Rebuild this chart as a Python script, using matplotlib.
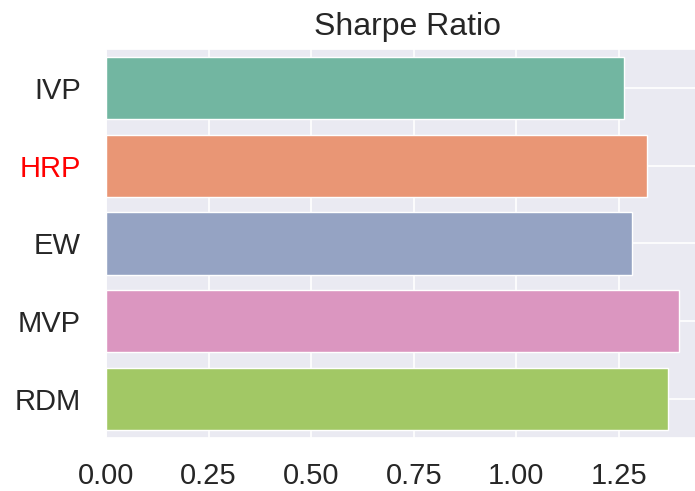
import matplotlib
matplotlib.use("Agg")
import matplotlib.pyplot as plt
import seaborn as sns

# Sharpe ratio per portfolio construction method
methods = ["IVP", "HRP", "EW", "MVP", "RDM"]
sharpe = [1.263, 1.317, 1.282, 1.397, 1.370]
highlight = "HRP"
xticks = [0.0, 0.25, 0.5, 0.75, 1.0, 1.25]

sns.set_theme(style="darkgrid")
plt.rcParams["font.family"] = ["Liberation Sans", "DejaVu Sans"]

colors = sns.color_palette("Set2", len(methods), desat=0.75)

fig = plt.figure(figsize=(6.95, 4.91), dpi=100)
ax = fig.add_axes([106 / 695, 53 / 491, (708 - 106) / 695, (442 - 53) / 491])

y = list(range(len(methods)))
ax.barh(y, sharpe, height=0.8, color=colors, edgecolor="white", linewidth=1.0)
ax.set_ylim(len(methods) - 0.5, -0.5)
ax.set_xlim(0, max(sharpe) * 1.05)
ax.set_yticks(y)
ax.set_yticklabels(methods)
ax.set_xticks(xticks)
ax.set_xticklabels([f"{v:.2f}" for v in xticks])

ax.tick_params(axis="y", length=0, pad=18, labelsize=21, labelcolor="#262626")
ax.tick_params(axis="x", length=0, pad=17, labelsize=21, labelcolor="#262626")
for lbl in ax.get_yticklabels():
    if lbl.get_text() == highlight:
        lbl.set_color("red")

ax.grid(True, color="white", linewidth=1.2)
ax.set_title("Sharpe Ratio", fontsize=23, color="#262626", pad=10)

fig.savefig("out.png", dpi=100)
